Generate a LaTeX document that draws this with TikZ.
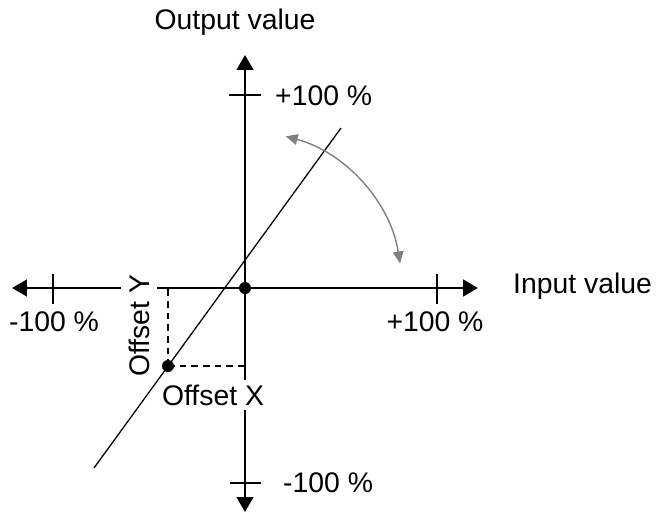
\documentclass[tikz,border=0pt]{standalone}
\usepackage{fontspec}
\setmainfont{Liberation Sans}
\usetikzlibrary{arrows.meta}

\begin{document}
\begin{tikzpicture}[x=0.3mm,y=0.3mm,
  axis/.style={line width=2.2pt,-{Triangle[length=4.5mm,width=5mm]}},
  tickline/.style={line width=1.3pt},
  slope/.style={line width=1.1pt},
  offsetline/.style={line width=1.1pt,dash pattern=on 2mm off 1.5mm},
  turn/.style={line width=1.2pt,black!50,{Triangle[length=3.6mm,width=3.2mm]}-{Triangle[length=3.6mm,width=3.2mm]}},
  lbl/.style={inner sep=0pt,font=\fontsize{24.2}{29}\selectfont},
  gaplbl/.style={lbl,fill=white}]
\useasboundingbox (-245,-229) rectangle (412,288);
\coordinate (O) at (0,0);
\coordinate (xl) at (-233,0);
\coordinate (xr) at (233,0);
\coordinate (yt) at (0,233);
\coordinate (yb) at (0,-224);
\draw[axis] (O) -- (xl);
\draw[axis] (O) -- (xr);
\draw[axis] (O) -- (yt);
\draw[axis] (O) -- (yb);
\draw[tickline] (-192,14) -- (-192,-16);
\draw[tickline] (192,14) -- (192,-16);
\draw[tickline] (-16,193) -- (16,193);
\draw[tickline] (-15,-195) -- (16,-195);
\coordinate (P) at (-77,-78);
\coordinate (s1) at (-151,-180);
\coordinate (s2) at (96,160);
\draw[slope] (s1) -- (s2);
\draw[offsetline] (P) -- (P |- O);
\draw[offsetline] (P) -- (P -| O);
\fill (O) circle (6);
\fill (P) circle (6);
\node[gaplbl,rotate=90,inner xsep=2pt,inner ysep=6.5pt] (offy) at (-106,-38) {Offset Y};
\node[gaplbl,inner xsep=2pt,inner ysep=4pt] (offx) at (-32,-107) {Offset X};
\coordinate (a1) at (75:157);
\draw[turn] (a1) arc[start angle=75,end angle=9,radius=157];
\node[lbl] (outv) at (-10,266) {Output value};
\node[lbl,anchor=west] (inv) at (268,2) {Input value};
\node[lbl,anchor=west] (ytop) at (30,192) {+100 \%};
\node[lbl,anchor=west] (ybot) at (38,-195) {-100 \%};
\node[lbl] (xleft) at (-191,-34) {-100 \%};
\node[lbl] (xright) at (190,-34) {+100 \%};
\end{tikzpicture}
\end{document}
